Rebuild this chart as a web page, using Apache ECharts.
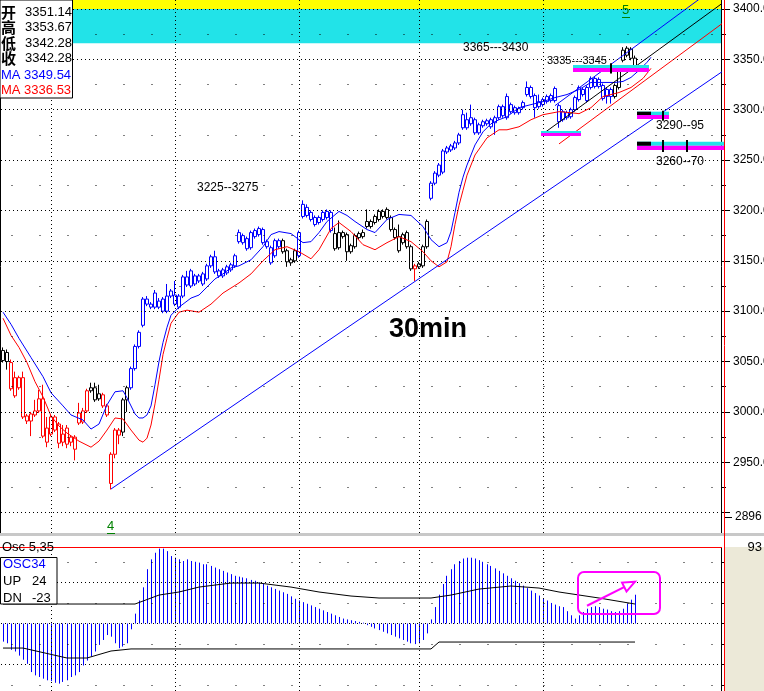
<!DOCTYPE html>
<html><head><meta charset="utf-8">
<script src="https://cdn.jsdelivr.net/npm/echarts@6.0.0/dist/echarts.min.js"></script>
<style>html,body{margin:0;padding:0;background:#fff}#c{width:764px;height:691px}</style>
</head><body><div id="c"></div>
<script>
// ---------- data ----------
const SLOTS = 180;
const opens  = [3061,3059,3049,3016,3024,3034,2996,2991,2997,3001,3013,2970,2978,2995,2988,2970,2984,2970,2975,2999,2990,3001,3021,3024,3013,3017,3006,2929,2958,2982,2980,3012,3024,3043,3065,3086,3112,3104,3118,3104,3100,3100,3120,3116,3104,3115,3126,3140,3135,3130,3127,3132,3145,3154,3140,3135,3138,3141,3145,3178,3175,3162,3163,3174,3176,3181,3169,3163,3155,3164,3170,3160,3148,3150,3155,3206,3203,3198,3193,3188,3191,3193,3198,3177,3163,3174,3176,3159,3164,3173,3174,3189,3184,3188,3191,3199,3201,3193,3181,3160,3168,3178,3164,3142,3144,3145,3164,3212,3227,3235,3238,3258,3264,3262,3267,3295,3282,3286,3290,3277,3284,3289,3283,3287,3292,3294,3313,3298,3302,3301,3302,3315,3322,3314,3303,3305,3308,3309,3309,3304,3298,3292,3293,3300,3310,3320,3309,3322,3331,3330,3324,3313,3320,3313,3322,3349,3361,3360,3351.14];
const closes = [3051,3050,3023,3034,3034,2995,2991,2998,3001,3013,2976,2984,2995,2982,2969,2978,2968,2975,2963,2989,3001,3021,3024,3012,3018,3006,2997,2958,2982,2977,3012,3024,3043,3065,3079,3112,3107,3107,3104,3110,3112,3115,3115,3107,3115,3134,3134,3125,3127,3135,3137,3145,3154,3139,3135,3141,3144,3146,3155,3169,3168,3172,3178,3180,3182,3168,3164,3148,3170,3170,3159,3149,3151,3160,3178,3194,3195,3191,3186,3193,3198,3199,3180,3162,3178,3178,3159,3165,3175,3177,3178,3184,3189,3194,3199,3194,3193,3181,3173,3174,3176,3164,3142,3145,3147,3164,3189,3227,3237,3245,3259,3262,3260,3267,3275,3282,3290,3292,3277,3285,3288,3286,3290,3292,3303,3303,3292,3305,3297,3297,3307,3322,3313,3302,3308,3310,3313,3314,3321,3288,3290,3297,3300,3312,3322,3315,3322,3331,3323,3323,3311,3320,3313,3324,3338,3359,3354,3351,3342.28];
const lows   = [3049,3042,3021,3014,3022,2993,2988,2976,2995,2999,2974,2965,2976,2980,2964,2966,2964,2966,2952,2987,2988,2999,3019,3010,3011,3004,2995,2923,2954,2968,2976,3000,3022,3041,3063,3084,3105,3102,3102,3102,3098,3098,3113,3105,3102,3113,3124,3123,3125,3128,3125,3130,3143,3137,3133,3133,3136,3139,3143,3167,3166,3160,3161,3172,3174,3166,3162,3146,3153,3162,3157,3144,3145,3148,3153,3192,3193,3189,3184,3186,3189,3191,3178,3160,3161,3172,3150,3157,3162,3171,3172,3182,3182,3186,3189,3192,3191,3179,3171,3158,3166,3162,3140,3130,3142,3143,3162,3210,3225,3233,3236,3256,3258,3260,3265,3280,3280,3284,3275,3275,3282,3284,3281,3275,3290,3292,3290,3296,3295,3295,3300,3313,3311,3292,3301,3303,3306,3307,3307,3282,3288,3290,3291,3298,3308,3313,3307,3320,3321,3321,3309,3306,3306,3311,3320,3347,3352,3349,3342.28];
const highs  = [3064,3062,3052,3040,3036,3040,2998,3000,3012,3022,3027,2995,2997,2997,2990,2987,2987,2977,2977,3009,3004,3023,3029,3029,3027,3019,3008,2960,2984,2984,3014,3026,3045,3067,3081,3114,3115,3109,3121,3113,3114,3127,3122,3130,3117,3136,3140,3142,3137,3137,3139,3147,3156,3160,3142,3143,3146,3148,3157,3181,3177,3174,3180,3182,3184,3183,3171,3165,3172,3172,3172,3162,3153,3162,3180,3210,3206,3200,3195,3195,3200,3201,3200,3183,3190,3180,3178,3167,3177,3179,3181,3201,3191,3196,3201,3201,3203,3195,3183,3186,3178,3180,3166,3147,3149,3166,3191,3229,3239,3247,3261,3264,3266,3269,3277,3300,3297,3305,3292,3287,3290,3291,3292,3294,3305,3305,3316,3307,3304,3303,3309,3328,3324,3316,3315,3312,3315,3316,3323,3306,3300,3299,3302,3314,3324,3322,3324,3333,3333,3332,3326,3322,3322,3326,3340,3362,3363,3362,3353.67];
// candle colour code per bar: k = black, r = red, b = blue
const candleColors = 'kkrrrrrrrrrrrrrrrrrrrrkkkrrrrrkkbbbbbbbbbbbbbbbbbbbbbbbbbbbbbbbbbbbbbbkkkkbbbbbbbbbkkkkkkkkkkkkkkkkkkkkrkkkbbbbbbbbbbbbbbbbbbbbbbbbbbbbbbbbbbbbbbbbbbbbbbkkkkkkkkkbbbb';
// displaced moving averages, read as [bar index, price]
const maBlue = [[0,3099],[2,3087],[4,3073],[7,3054],[10,3035],[12,3019],[15,3006],[17,2997],[20,2992],[22,2983],[24,2988],[26,3007],[28,3020],[30,3021],[31,3014],[33,2998],[34,2994],[35,2994],[36,2997],[37,3006],[38,3027],[39,3050],[40,3069],[41,3084],[42,3096],[44,3104],[47,3113],[49,3116],[51,3124],[53,3132],[55,3137],[57,3143],[59,3145],[62,3151],[65,3164],[67,3176],[69,3179],[72,3177],[75,3168],[77,3169],[79,3178],[81,3189],[84,3199],[86,3195],[88,3189],[91,3181],[93,3178],[96,3191],[99,3196],[102,3195],[105,3184],[107,3171],[109,3164],[111,3168],[112,3179],[113,3198],[114,3218],[115,3233],[116,3245],[117,3255],[118,3265],[120,3278],[122,3286],[124,3290],[126,3293],[129,3302],[132,3305],[135,3308],[138,3312],[141,3315],[144,3320],[147,3327],[150,3327],[153,3327],[155,3328],[157,3332],[159,3339],[161,3347],[162,3352]];
const maRed = [[0,3093],[2,3076],[4,3064],[6,3049],[8,3030],[10,3015],[12,2996],[14,2986],[16,2979],[19,2971],[22,2965],[24,2971],[26,2982],[28,2994],[30,2993],[32,2982],[34,2972],[35,2970],[36,2974],[37,2987],[38,3008],[39,3032],[40,3057],[41,3073],[42,3088],[44,3099],[46,3101],[49,3099],[52,3107],[55,3118],[59,3128],[62,3137],[65,3150],[68,3161],[71,3164],[74,3159],[77,3152],[79,3161],[82,3182],[84,3188],[87,3179],[90,3166],[93,3161],[96,3168],[99,3174],[102,3169],[105,3159],[107,3150],[109,3144],[111,3149],[112,3164],[113,3186],[114,3205],[115,3220],[116,3235],[118,3255],[121,3272],[124,3280],[126,3280],[129,3283],[132,3290],[135,3295],[139,3298],[142,3297],[144,3296],[147,3302],[150,3313],[154,3317],[157,3322],[160,3331],[162,3341]];
// trend lines [bar index, price]
const supportLine = [[27,2923.5],[181,3341]];
const channelTop  = [[138,3304],[181,3430]];
const channelMid  = [[135,3276],[181,3409]];
const channelLow  = [[139,3266],[181,3389]];
// target zones
const bandYellow = [3400, 3430];
const bandCyan   = [3366, 3400];
// oscillator
const osc = [-22,-24,-32,-34,-39,-44,-49,-59,-63,-65,-67,-69,-70,-72,-73,-71,-69,-65,-63,-59,-51,-45,-40,-34,-26,-20,-14,-16,-24,-30,-28,-24,-7,
 12,28,44,66,78,86,91,91,88,82,80,78,76,78,76,75,
 74,72,72,70,68,66,64,62,60,58,57,56,55,53,52,50,48,46,44,42,40,38,36,33,30,28,26,24,22,20,
 18,16,14,12,10,8,6,5,4,3,2,1,
 -2,-4,-6,-8,-10,-12,-14,-16,-18,-20,-22,-24,-25,-24,-20,-12,
 5,20,35,48,58,66,72,76,79,80,80,79,77,75,72,70,67,64,61,58,55,52,49,46,43,40,37,34,31,28,25,23,21,
 20,15,10,6,10,14,18,20,21,20,18,17,15,14,15,18,24,29,35];
const oscUp = [[0,23.7],[33,23.7],[39,34.6],[44,38.3],[49,44.3],[57,49.2],[64,49.2],[72,44.3],[79,38.3],[87,33.4],[94,31],[107,31],[112,34.6],[119,41.9],[127,45.6],[134,43.1],[139,38.3],[149,31],[158,23.7]];
const oscDn = [[0,-29.8],[5,-29.8],[16,-41.9],[21,-41.9],[27,-33.4],[32,-30.9],[107,-30.9],[109,-22.5],[158,-22.5]];
// axes
const mainGrid   = [2900,2950,3000,3050,3100,3150,3200,3250,3300,3350,3400];
const mainLabels = [2950,3000,3050,3100,3150,3200,3250,3300,3350,3400];
const mainMinor  = [2925,2975,3025,3075,3125,3175,3225,3275,3325,3375];
const oscTicks   = [-50,0,50];
const oscMinor   = [-75,-25,25,75];
const dayBreaks  = [12,43,74,104,135];

// ---------- build ----------
const COLORS = {r:'#FF0000', k:'#000000', b:'#0000FF'};
const cats = Array.from({length:SLOTS}, (_, i) => String(i));
const candleData = opens.map((o, i) => {
  const c = COLORS[candleColors[i]];
  return {value:[o, closes[i], lows[i], highs[i]],
          itemStyle:{color:'#FFFFFF', color0:c, borderColor:c, borderColor0:c}};
});
const FONT = '"Liberation Sans", Arial, sans-serif';
const dense = {color:'#000', width:1, type:[1,3]};
const sparse = {color:'#000', width:1, type:[1,27], dashOffset:17.5};
const hLines = (vals, style) => vals.map(v => ({yAxis:v, lineStyle:style}));
const vLines = (vals, style) => vals.map(v => ({xAxis:v, lineStyle:style}));

const chart = echarts.init(document.getElementById('c'), null, {renderer:'canvas', width:764, height:691});
const xAxisBase = (gi) => ({
  gridIndex:gi, type:'category', data:cats, boundaryGap:true,
  axisLine:{show:false}, axisTick:{show:false}, axisLabel:{show:false}, splitLine:{show:false}
});
const option = {
  animation:false,
  backgroundColor:'#FFFFFF',
  grid:[
    {left:1, top:0, width:720, height:533, outerBoundsMode:'none'},
    {left:1, top:547, width:720, height:144, outerBoundsMode:'none'}
  ],
  xAxis:[xAxisBase(0), xAxisBase(1)],
  yAxis:[
    {gridIndex:0, type:'value', position:'right', min:2879.85, max:3408.83,
     axisLine:{show:true, lineStyle:{color:'#000'}},
     axisTick:{show:true, length:9, customValues:mainGrid, lineStyle:{color:'#000'}},
     axisLabel:{show:true, customValues:mainLabels, margin:12, color:'#000', fontSize:12, fontFamily:FONT, formatter:v => v.toFixed(2)},
     splitLine:{show:false}},
    {gridIndex:0, type:'value', position:'right', min:2879.85, max:3408.83,
     axisLine:{show:false}, axisLabel:{show:false}, splitLine:{show:false},
     axisTick:{show:true, length:5, customValues:mainMinor, lineStyle:{color:'#000'}}},
    {gridIndex:1, type:'value', position:'right', min:-82, max:93,
     axisLine:{show:true, lineStyle:{color:'#000'}},
     axisTick:{show:true, length:9, customValues:oscTicks, lineStyle:{color:'#000'}},
     axisLabel:{show:true, customValues:oscTicks, margin:12, color:'#000', fontSize:12, fontFamily:FONT},
     splitLine:{show:false}},
    {gridIndex:1, type:'value', position:'right', min:-82, max:93,
     axisLine:{show:false}, axisLabel:{show:false}, splitLine:{show:false},
     axisTick:{show:true, length:5, customValues:oscMinor, lineStyle:{color:'#000'}}}
  ],
  series:[
    {type:'line', xAxisIndex:0, yAxisIndex:0, data:[], z:0, silent:true,
     markLine:{silent:true, symbol:'none', label:{show:false}, animation:false,
       data:[...hLines(mainGrid, dense), ...hLines(mainMinor, sparse), ...vLines(dayBreaks, dense)]}},
    {type:'line', xAxisIndex:0, yAxisIndex:0, data:[], z:1, silent:true,
     markArea:{silent:true, data:[
       [{yAxis:bandYellow[0], itemStyle:{color:'#FFFF00', opacity:1}}, {yAxis:bandYellow[1]}],
       [{yAxis:bandCyan[0], itemStyle:{color:'#22E3E8', opacity:1}}, {yAxis:bandCyan[1]}]
     ]},
     markLine:{silent:true, symbol:'none', label:{show:false},
       data:[[{coord:[107, bandCyan[0]], lineStyle:{color:'#000', width:3, type:'solid'}}, {coord:[107, 3409]}]]}},
    {type:'candlestick', xAxisIndex:0, yAxisIndex:0, data:candleData, barWidth:3, z:2},
    {type:'line', xAxisIndex:0, yAxisIndex:0, data:maBlue, showSymbol:false, symbol:'none', lineStyle:{color:'#0000FF', width:1}, z:3},
    {type:'line', xAxisIndex:0, yAxisIndex:0, data:maRed, showSymbol:false, symbol:'none', lineStyle:{color:'#FF0000', width:1}, z:3},
    {type:'line', xAxisIndex:0, yAxisIndex:0, data:supportLine, symbol:'none', lineStyle:{color:'#0000FF', width:1}, z:3, clip:true},
    {type:'line', xAxisIndex:0, yAxisIndex:0, data:channelTop, symbol:'none', lineStyle:{color:'#0000FF', width:1}, z:3, clip:true},
    {type:'line', xAxisIndex:0, yAxisIndex:0, data:channelMid, symbol:'none', lineStyle:{color:'#000000', width:1}, z:3, clip:true},
    {type:'line', xAxisIndex:0, yAxisIndex:0, data:channelLow, symbol:'none', lineStyle:{color:'#FF0000', width:1}, z:3, clip:true},
    // oscillator panel
    {type:'line', xAxisIndex:1, yAxisIndex:2, data:[], z:0, silent:true,
     markLine:{silent:true, symbol:'none', label:{show:false},
       data:[...hLines(oscTicks, dense), ...hLines(oscMinor, sparse), ...vLines(dayBreaks, dense)]}},
    {type:'custom', xAxisIndex:1, yAxisIndex:2, z:2, silent:true,
     data:osc.map((v, i) => [i, v]),
     encode:{x:0, y:1},
     renderItem:(params, api) => {
       const top = api.coord([api.value(0), api.value(1)]);
       const base = api.coord([api.value(0), 0]);
       const x = Math.floor(top[0]) + 0.5;
       return {type:'line', shape:{x1:x, y1:base[1], x2:x, y2:top[1]}, style:{stroke:'#0000FF', lineWidth:1}};
     }},
    {type:'line', xAxisIndex:1, yAxisIndex:2, data:oscUp, symbol:'none', lineStyle:{color:'#000', width:1}, z:3},
    {type:'line', xAxisIndex:1, yAxisIndex:2, data:oscDn, symbol:'none', lineStyle:{color:'#000', width:1}, z:3}
  ]
};
chart.setOption(option);

// ---------- annotations ----------
const px = (gi, idx, v) => chart.convertToPixel({gridIndex:gi}, [idx, v]);
const T = (text, x, y, opts) => Object.assign({type:'text', x, y, z:100,
  style:Object.assign({text, fill:'#000', font:'12px ' + FONT, verticalAlign:'middle'}, opts || {})});
const rect = (x, y, w, h, fill, stroke, z) => ({type:'rect', z:z || 90, shape:{x, y, width:w, height:h},
  style:{fill:fill, stroke:stroke || null, lineWidth:1}});
const levelBar = (i0, i1, lo, mid, hi, blackTo) => {
  const a = px(0, i0, hi), b = px(0, i1, lo), m = px(0, i0, mid);
  const out = [];
  const xs = a[0] - 2, xe = b[0] + 2;
  out.push(rect(xs, a[1], xe - xs, m[1] - a[1], '#22E3E8', null, 60));
  out.push(rect(xs, m[1], xe - xs, b[1] - m[1], '#FF00FF', null, 60));
  if (blackTo != null) { const k = px(0, blackTo, lo); out.push(rect(xs, a[1], k[0] - xs, m[1] - a[1], '#000', null, 61)); }
  return out;
};
const levelTick = (i, lo, hi) => { const a = px(0, i, hi), b = px(0, i, lo);
  return {type:'rect', z:62, shape:{x:a[0]-1, y:a[1], width:2, height:b[1]-a[1]}, style:{fill:'#000'}}; };

const g = [];
// separator & right strip
g.push(rect(0, 533, 764, 14, '#FFFFFF', null, 80));
g.push(rect(0, 533, 764, 3, '#C8C8C8', null, 81));
g.push(rect(724.5, 537, 40, 154, '#ECE9D8', null, 5));
g.push({type:'line', z:82, shape:{x1:0, y1:547.5, x2:722, y2:547.5}, style:{stroke:'#FF0000', lineWidth:1}});
g.push({type:'line', z:82, shape:{x1:724.5, y1:0, x2:724.5, y2:691}, style:{stroke:'#FF0000', lineWidth:1}});
g.push({type:'line', z:82, shape:{x1:0.5, y1:0, x2:0.5, y2:533}, style:{stroke:'#000', lineWidth:1}});
// level bars
levelBar(143, 161, 3337.4, 3341.3, 3344.3, null).forEach(e => g.push(e));
levelBar(135, 144, 3273.8, 3276.8, 3278.8, null).forEach(e => g.push(e));
levelBar(159, 166, 3290.7, 3294.7, 3298, 162).forEach(e => g.push(e));
levelBar(159, 180, 3260, 3264.2, 3268.2, 162).forEach(e => g.push(e));
g.push(levelTick(152, 3336, 3346));
g.push(levelTick(165, 3289, 3299));
g.push(levelTick(165, 3258, 3270));
g.push(levelTick(171, 3258, 3270));
// info box
g.push(rect(0, 0, 72.5, 98, '#FFFFFF', '#000', 95));
const cjk = 'bold 15px "Noto Sans CJK SC", sans-serif';
[['开','3351.14',12],['高','3353.67',27],['低','3342.28',43],['收','3342.28',58]].forEach(r => {
  g.push(T(r[0], 1, r[2], {font:cjk}));
  g.push(T(r[1], 25, r[2], {font:'13px ' + FONT}));
});
g.push(T('MA 3349.54', 1, 75, {font:'13px ' + FONT, fill:'#0000FF'}));
g.push(T('MA 3336.53', 1, 90, {font:'13px ' + FONT, fill:'#FF0000'}));
// osc box
g.push(T('Osc 5,35', 2, 547, {font:'13px ' + FONT}));
g.push(rect(0.5, 557.5, 56.5, 46.5, '#FFFFFF', '#000', 95));
g.push(T('OSC34', 3, 564, {font:'13px ' + FONT, fill:'#0000FF'}));
g.push(T('UP', 3, 581, {font:'13px ' + FONT}));
g.push(T('24', 32, 581, {font:'13px ' + FONT}));
g.push(T('DN', 3, 598, {font:'13px ' + FONT}));
g.push(T('-23', 32, 598, {font:'13px ' + FONT}));
g.push(T('93', 762, 547, {font:'13px ' + FONT, align:'right'}));
g.push(T('2896', 735, 517, {font:'12px ' + FONT}));
g.push({type:'line', z:100, shape:{x1:725, y1:517.5, x2:732, y2:517.5}, style:{stroke:'#000', lineWidth:1}});
// text annotations
g.push(T('3365---3430', 463, 48));
g.push(T('3335---3345', 547, 61, {font:'11px ' + FONT}));
g.push(T('3290--95', 656, 126));
g.push(T('3260--70', 656, 162));
g.push(T('3225--3275', 197, 188));
g.push(T('30min', 389, 330, {font:'bold 27px ' + FONT}));
g.push(T('5', 622, 10, {font:'13px ' + FONT, fill:'#008000'}));
g.push({type:'line', z:100, shape:{x1:622, y1:17.5, x2:630, y2:17.5}, style:{stroke:'#008000', lineWidth:1}});
g.push(T('4', 107, 526, {font:'13px ' + FONT, fill:'#008000'}));
g.push({type:'line', z:100, shape:{x1:107, y1:533.5, x2:115, y2:533.5}, style:{stroke:'#008000', lineWidth:1}});
// magenta box and arrow on oscillator
const b0 = px(1, 144, 62.6), b1 = px(1, 164, 11.5);
g.push({type:'rect', z:100, shape:{x:b0[0]-1, y:b0[1], width:b1[0]-b0[0]+2, height:b1[1]-b0[1], r:6},
  style:{fill:null, stroke:'#FF00FF', lineWidth:2}});
const a0 = px(1, 146, 21.6), a1 = px(1, 158, 50.8);
g.push({type:'line', z:100, shape:{x1:a0[0], y1:a0[1], x2:a1[0], y2:a1[1]}, style:{stroke:'#FF00FF', lineWidth:2}});
const ang = Math.atan2(a1[1]-a0[1], a1[0]-a0[0]);
const hp = (d, s) => [a1[0] - d*Math.cos(ang) + s*Math.sin(ang), a1[1] - d*Math.sin(ang) - s*Math.cos(ang)];
g.push({type:'polygon', z:100, shape:{points:[a1, hp(12, 5), hp(12, -5)]}, style:{fill:'#FFFFFF', stroke:'#FF00FF', lineWidth:2}});
chart.setOption({graphic:g});
</script></body></html>
